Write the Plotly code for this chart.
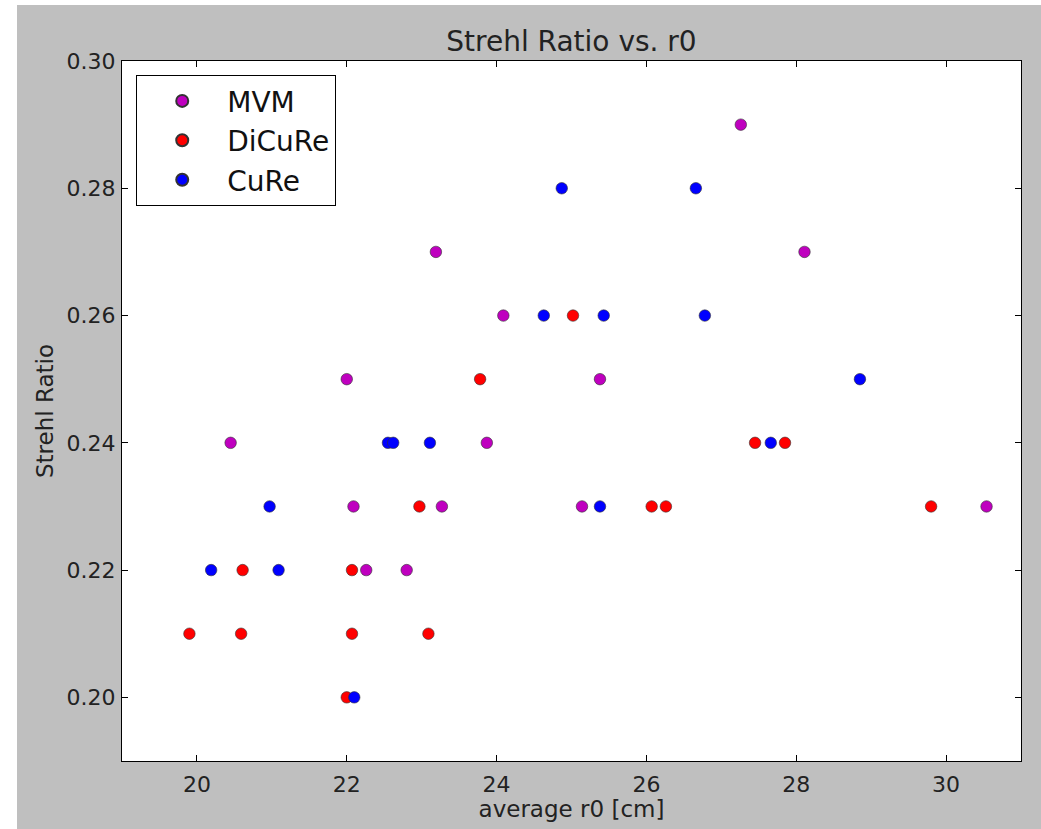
import plotly.graph_objects as go

# MVM series
mvm_r0 = [27.26, 28.11, 23.19, 24.09, 22.00, 25.38, 20.45, 23.87, 22.09, 23.27, 25.14, 30.54, 22.26, 22.80]
mvm_sr = [0.29, 0.27, 0.27, 0.26, 0.25, 0.25, 0.24, 0.24, 0.23, 0.23, 0.23, 0.23, 0.22, 0.22]

# DiCuRe series
dicure_r0 = [23.78, 25.02, 22.97, 20.61, 22.07, 19.90, 20.59, 22.07, 23.09, 22.00, 27.45, 27.85, 26.07, 26.26, 29.80]
dicure_sr = [0.25, 0.26, 0.23, 0.22, 0.22, 0.21, 0.21, 0.21, 0.21, 0.20, 0.24, 0.24, 0.23, 0.23, 0.23]

# CuRe series
cure_r0 = [24.87, 26.66, 24.63, 25.43, 26.78, 28.85, 22.55, 22.62, 23.11, 27.66, 20.97, 25.38, 20.19, 21.09, 22.10]
cure_sr = [0.28, 0.28, 0.26, 0.26, 0.26, 0.25, 0.24, 0.24, 0.24, 0.24, 0.23, 0.23, 0.22, 0.22, 0.20]

x_ticks = [20, 22, 24, 26, 28, 30]
y_ticks = [0.20, 0.22, 0.24, 0.26, 0.28, 0.30]
y_tick_labels = ["0.20", "0.22", "0.24", "0.26", "0.28", "0.30"]

FONT = "DejaVu Sans"
TXT = "#222222"

fig = go.Figure()
series = [
    ("MVM", mvm_r0, mvm_sr, "#bf00bf"),
    ("DiCuRe", dicure_r0, dicure_sr, "#ff0000"),
    ("CuRe", cure_r0, cure_sr, "#0000ff"),
]
for name, xs, ys, col in series:
    fig.add_trace(go.Scatter(
        x=xs, y=ys, mode="markers", name=name,
        marker=dict(color=col, size=11.5, line=dict(color="#333333", width=0.6)),
    ))

axis_common = dict(
    showgrid=False, zeroline=False, showline=True, linecolor="black", linewidth=1.2,
    mirror="ticks", ticks="inside", ticklen=6, tickwidth=1, tickcolor="black",
    tickfont=dict(family=FONT, size=22, color=TXT),
)

W, H = 1024, 824  # page offset 17px left, 5px top
fig.update_layout(
    width=W, height=H,
    paper_bgcolor="#bfbfbf", plot_bgcolor="white",
    margin=dict(l=105, r=20, t=56, b=68),
    title=dict(text="Strehl Ratio vs. r0", x=0.5, xref="paper", y=1 - 36 / H, yref="container",
               xanchor="center", yanchor="middle",
               font=dict(family=FONT, size=28, color=TXT)),
    xaxis=dict(range=[19, 31], tickvals=x_ticks, ticklabelstandoff=3,
               title=dict(text="average r0 [cm]", font=dict(family=FONT, size=23, color=TXT), standoff=0),
               **axis_common),
    yaxis=dict(range=[0.19, 0.30], tickvals=y_ticks, ticktext=y_tick_labels, ticklabelstandoff=1,
               title=dict(text="Strehl Ratio", font=dict(family=FONT, size=23, color=TXT), standoff=6),
               **axis_common),
    legend=dict(x=0.0156, y=0.98, xanchor="left", yanchor="top",
                bgcolor="white", bordercolor="black", borderwidth=1.2,
                font=dict(family=FONT, size=28, color="#111111"),
                itemwidth=80, itemsizing="constant"),
    showlegend=True,
)

fig.write_html("out.html", post_script="document.body.style.margin='5px 0 0 17px';document.body.style.background='white';")
